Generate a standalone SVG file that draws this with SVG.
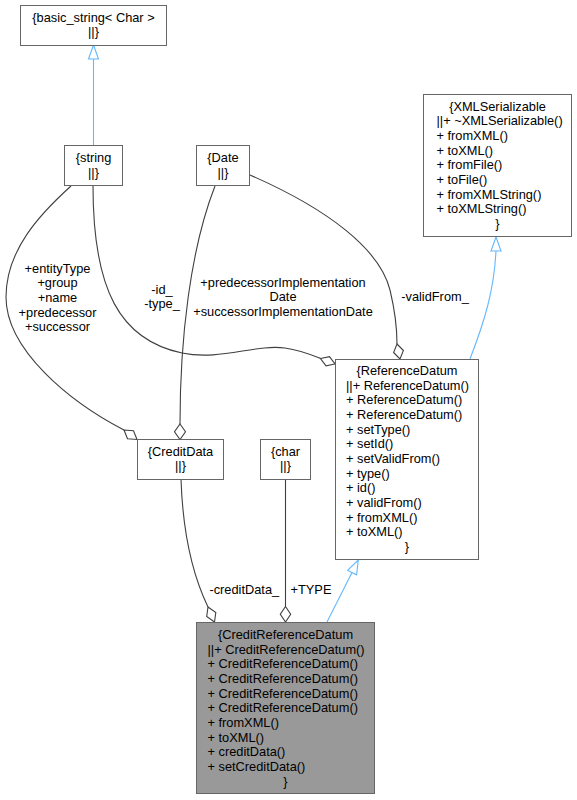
<svg xmlns="http://www.w3.org/2000/svg" width="577" height="800" viewBox="0 0 577 800">
<style>
text{font-family:"Liberation Sans",Arial,sans-serif;font-size:12.8px;fill:#000}
.c{text-anchor:middle}
.box{fill:#fff;stroke:#666;stroke-width:1}
.cur{fill:#999;stroke:#666;stroke-width:1}
.agg{fill:none;stroke:#404040;stroke-width:1.1}
.inh{fill:none;stroke:#63b8ff;stroke-width:1.1}
.dia{fill:#fff;stroke:#404040;stroke-width:1.1}
.tri{fill:#fff;stroke:#63b8ff;stroke-width:1.1}
</style>
<rect width="577" height="800" fill="#fff"/>
<g id="connectors">
  <!-- string -> basic_string -->
  <path class="inh" d="M93.5,146 L93.5,59"/>
  <polygon class="tri" points="93.5,45 88.5,59 98.5,59"/>
  <!-- ReferenceDatum -> XMLSerializable -->
  <path class="inh" d="M470,359 C485,320 494,290 496,251"/>
  <polygon class="tri" points="496,237 491,251 501,251"/>
  <!-- CreditReferenceDatum -> ReferenceDatum -->
  <path class="inh" d="M327,622 L352,572.6"/>
  <polygon class="tri" points="358.3,560 356.6,574.8 347.6,570.4"/>
  <!-- string -> CreditData -->
  <path class="agg" d="M71,186 C40,214 6,250 6,297 C6,350 70,402 124,430"/>
  <polygon class="dia" points="124,430 133.5,430.7 137,439.5 127.5,438.8"/>
  <!-- string -> ReferenceDatum -->
  <path class="agg" d="M93,186 C93,290 120,340 182,353 C220,361 255,344 285,348 C300,350 312,355 320.5,358.5"/>
  <polygon class="dia" points="320.5,358.5 329.5,356.6 335,364 326,365.9"/>
  <!-- Date -> CreditData -->
  <path class="agg" d="M215,186 C190,250 180,340 180,424"/>
  <polygon class="dia" points="180,424 185.5,431.7 180,439.5 174.5,431.7"/>
  <!-- Date -> ReferenceDatum -->
  <path class="agg" d="M250,175 C330,210 380,250 390,290 C396,315 397,330 397,344"/>
  <polygon class="dia" points="397,344 403.4,350.5 400,359 393.6,352.5"/>
  <!-- CreditData -> CreditReferenceDatum -->
  <path class="agg" d="M181,479 C183,540 195,580 208,607"/>
  <polygon class="dia" points="208,607 215.8,612.5 214.5,622 206.7,616.5"/>
  <!-- char -> CreditReferenceDatum -->
  <path class="agg" d="M285.5,479 L285.5,606.5"/>
  <polygon class="dia" points="285.5,606.5 290.7,614.2 285.5,622 280.3,614.2"/>
  <!-- labels -->
  <text class="c" x="57.5" y="272.7">+entityType</text>
  <text class="c" x="57.5" y="287.4">+group</text>
  <text class="c" x="57.5" y="302">+name</text>
  <text class="c" x="57.5" y="316.7">+predecessor</text>
  <text class="c" x="57.5" y="331.4">+successor</text>
  <text class="c" x="162" y="294">-id_</text>
  <text class="c" x="162" y="308.3">-type_</text>
  <text class="c" x="283" y="287">+predecessorImplementation</text>
  <text class="c" x="283" y="301.2">Date</text>
  <text class="c" x="283" y="315.5">+successorImplementationDate</text>
  <text class="c" x="435" y="301">-validFrom_</text>
  <text class="c" x="244.3" y="594">-creditData_</text>
  <text class="c" x="311" y="594">+TYPE</text>
</g>
<g id="basic_string">
  <rect class="box" x="20.5" y="5.5" width="146" height="40"/>
  <text class="c" x="93.5" y="21.5">{basic_string&lt; Char &gt;</text>
  <text class="c" x="93.5" y="36.3">||}</text>
</g>
<g id="string">
  <rect class="box" x="64.5" y="145.5" width="58" height="40"/>
  <text class="c" x="93.5" y="162">{string</text>
  <text class="c" x="93.5" y="176.8">||}</text>
</g>
<g id="Date">
  <rect class="box" x="196.5" y="145.5" width="53" height="40"/>
  <text class="c" x="223" y="162">{Date</text>
  <text class="c" x="223" y="176.8">||}</text>
</g>
<g id="XMLSerializable">
  <rect class="box" x="423.5" y="94.5" width="148" height="142"/>
  <text class="c" x="497.5" y="110.5">{XMLSerializable</text>
  <text x="436.5" y="125.2">||+ ~XMLSerializable()</text>
  <text x="436.5" y="139.8">+ fromXML()</text>
  <text x="436.5" y="154.5">+ toXML()</text>
  <text x="436.5" y="169.2">+ fromFile()</text>
  <text x="436.5" y="183.8">+ toFile()</text>
  <text x="436.5" y="198.5">+ fromXMLString()</text>
  <text x="436.5" y="213.2">+ toXMLString()</text>
  <text class="c" x="497.5" y="227.8">}</text>
</g>
<g id="ReferenceDatum">
  <rect class="box" x="335.5" y="359.5" width="143" height="200"/>
  <text class="c" x="407" y="375">{ReferenceDatum</text>
  <text x="346" y="389.7">||+ ReferenceDatum()</text>
  <text x="346" y="404.3">+ ReferenceDatum()</text>
  <text x="346" y="419">+ ReferenceDatum()</text>
  <text x="346" y="433.7">+ setType()</text>
  <text x="346" y="448.3">+ setId()</text>
  <text x="346" y="463">+ setValidFrom()</text>
  <text x="346" y="477.7">+ type()</text>
  <text x="346" y="492.3">+ id()</text>
  <text x="346" y="507">+ validFrom()</text>
  <text x="346" y="521.7">+ fromXML()</text>
  <text x="346" y="536.4">+ toXML()</text>
  <text class="c" x="407" y="551">}</text>
</g>
<g id="CreditData">
  <rect class="box" x="137.5" y="439.5" width="86" height="40"/>
  <text class="c" x="180.5" y="455.5">{CreditData</text>
  <text class="c" x="180.5" y="470.3">||}</text>
</g>
<g id="char">
  <rect class="box" x="260.5" y="439.5" width="50" height="40"/>
  <text class="c" x="285.5" y="455.5">{char</text>
  <text class="c" x="285.5" y="470.3">||}</text>
</g>
<g id="CreditReferenceDatum">
  <rect class="cur" x="196.5" y="622.5" width="178" height="171"/>
  <text class="c" x="285.5" y="639">{CreditReferenceDatum</text>
  <text x="207.5" y="653.7">||+ CreditReferenceDatum()</text>
  <text x="207.5" y="668.3">+ CreditReferenceDatum()</text>
  <text x="207.5" y="683">+ CreditReferenceDatum()</text>
  <text x="207.5" y="697.7">+ CreditReferenceDatum()</text>
  <text x="207.5" y="712.3">+ CreditReferenceDatum()</text>
  <text x="207.5" y="727">+ fromXML()</text>
  <text x="207.5" y="741.7">+ toXML()</text>
  <text x="207.5" y="756.3">+ creditData()</text>
  <text x="207.5" y="771">+ setCreditData()</text>
  <text class="c" x="285.5" y="785.7">}</text>
</g>
</svg>
